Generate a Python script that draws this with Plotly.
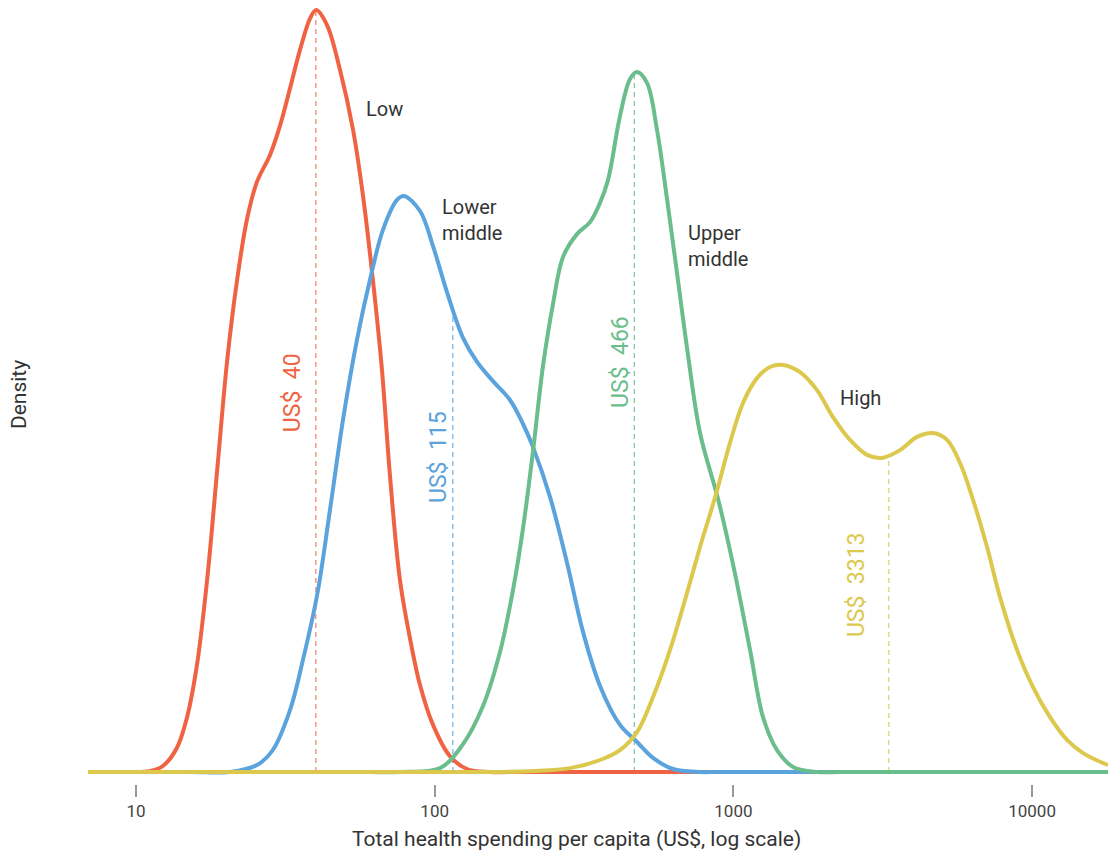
import math
import plotly.graph_objects as go

# Kernel density of per-capita health spending by income group (x in US$, log scale)
low_x = [6.9, 9.5, 11.1, 12.3, 13.7, 14.8, 16.0, 17.3, 18.7, 20.2, 21.8, 23.5, 25.4, 28.1,
         30.4, 32.8, 35.4, 38.3, 40.1, 43.6, 48.2, 53.3, 57.5, 62.1, 66.6, 70.8, 76.5,
         82.6, 89.3, 98.7, 112.4, 128.2, 153, 180, 17950]
low_y = [0, 0, 0.003, 0.02, 0.08, 0.18, 0.357, 0.64, 1.007, 1.373, 1.64, 1.84, 1.967, 2.057,
         2.157, 2.28, 2.407, 2.513, 2.54, 2.49, 2.34, 2.14, 1.923, 1.64, 1.34, 0.99, 0.64,
         0.447, 0.29, 0.157, 0.053, 0.01, 0, 0, 0]

lower_mid_x = [6.9, 15, 20.6, 25.4, 28.7, 32.8, 36.2, 40.4, 44.6, 49.3, 54.9, 60.7, 67.1, 74.8,
               78.9, 89.3, 98.7, 109.9, 124.4, 138.6, 156.7, 178.7, 197.6, 213.4, 243.2,
               277.4, 313.7, 357.6, 417.3, 475.7, 538.2, 627.9, 773, 900, 17950]
lower_mid_y = [0, 0, 0, 0.023, 0.073, 0.207, 0.373, 0.59, 0.873, 1.173, 1.44, 1.64, 1.807, 1.907,
               1.92, 1.87, 1.753, 1.6, 1.447, 1.367, 1.303, 1.24, 1.16, 1.083, 0.917,
               0.697, 0.467, 0.287, 0.157, 0.1, 0.047, 0.01, 0, 0, 0]

upper_mid_x = [6.9, 60, 76.5, 104.2, 124.4, 145.1, 165.4, 182.9, 197.6, 213.4, 230.4, 248.9,
               268.9, 299.5, 331.1, 357.6, 380.3, 417.3, 450.7, 475.7, 513.7, 555, 599.5,
               647.6, 699.6, 773.2, 890.2, 1001.7, 1136.9, 1256.5, 1399.6, 1583.3, 1905,
               2300, 17950]
upper_mid_y = [0, 0, 0, 0.013, 0.093, 0.22, 0.4, 0.607, 0.813, 1.07, 1.353, 1.56,
               1.717, 1.793, 1.833, 1.897, 1.973, 2.187, 2.31, 2.333, 2.297, 2.14, 1.91,
               1.663, 1.413, 1.13, 0.907, 0.683, 0.407, 0.183, 0.073, 0.017, 0,
               0, 0]

high_x = [6.9, 120, 165.4, 213.4, 283.8, 357.6, 417.3, 475.7, 538.2, 613.6, 699.4, 773.2, 876.6,
          974.1, 1076.8, 1199.5, 1326, 1465.5, 1671, 1905, 2155, 2457, 2802, 3145, 3613,
          4119, 4659, 5190, 5738, 6342, 7066, 7809, 8902, 10070, 11480, 13090, 14810, 17950]
high_y = [0, 0, 0, 0.003, 0.013, 0.04, 0.073, 0.133, 0.25, 0.407, 0.597, 0.75, 0.93,
          1.097, 1.23, 1.313, 1.35, 1.357, 1.333, 1.273, 1.183, 1.107, 1.057, 1.047, 1.073,
          1.117, 1.13, 1.107, 1.03, 0.907, 0.75, 0.583, 0.407, 0.283, 0.183, 0.107, 0.063, 0.023]

# Median spending per group and the density height where its marker line ends
medians = [40, 115, 466, 3313]
median_heights = [2.54, 1.543, 2.327, 1.053]

group_names = ["Low", "Lower<br>middle", "Upper<br>middle", "High"]
tick_vals = [10, 100, 1000, 10000]
tick_text = ["10", "100", "1000", "10000"]

line_colors = ["#EF6343", "#5BA3DC", "#6ABD8C", "#DDC84E"]
dash_colors = ["#F28A72", "#7DB6E3", "#86C9A1", "#E3D170"]

FONT = "Roboto, 'Noto Sans', sans-serif"

fig = go.Figure()

# median marker lines, underneath the curves
for m, h, c in zip(medians, median_heights, dash_colors):
    fig.add_trace(go.Scatter(
        x=[m, m], y=[0, h], mode="lines",
        line=dict(color=c, width=1.3, dash="5px,4px"),
        hoverinfo="skip", showlegend=False))

series = [(low_x, low_y), (lower_mid_x, lower_mid_y),
          (upper_mid_x, upper_mid_y), (high_x, high_y)]
for (xs, ys), c, name in zip(series, line_colors, group_names):
    fig.add_trace(go.Scatter(
        x=xs, y=ys, mode="lines", name=name.replace("<br>", " "),
        line=dict(color=c, width=4, shape="spline", smoothing=1.0),
        showlegend=False))

# group names
name_pos = [(67.7, 2.21, "center"), (104.2, 1.84, "left"),
            (693.8, 1.753, "left"), (2240, 1.247, "left")]
for (px, py, anchor), txt in zip(name_pos, group_names):
    fig.add_annotation(x=math.log10(px), y=py, text=txt, showarrow=False,
                       xanchor=anchor, yanchor="middle", align="left",
                       font=dict(family=FONT, size=20, color="#333333"))

# rotated median labels
label_pos = [(33.3, 1.263), (102.6, 1.05), (420.5, 1.367), (2573, 0.623)]
for (px, py), m, c in zip(label_pos, medians, line_colors):
    fig.add_annotation(x=math.log10(px), y=py, text=f"US$  {m}", showarrow=False,
                       textangle=-90, xanchor="center", yanchor="middle",
                       font=dict(family=FONT, size=23, color=c))

# x-axis title, set slightly left of the plot centre
fig.add_annotation(xref="paper", yref="paper", x=0.479, y=-0.071,
                   text="Total health spending per capita (US$, log scale)",
                   showarrow=False, xanchor="center", yanchor="middle",
                   font=dict(family=FONT, size=21, color="#333333"))

fig.update_layout(
    width=1112, height=855,
    margin=dict(l=88, r=4, t=5, b=71),
    plot_bgcolor="white", paper_bgcolor="white",
    font=dict(family=FONT, color="#333333"),
    xaxis=dict(
        type="log", range=[0.8393, 4.2541],
        tickvals=tick_vals, ticktext=tick_text,
        ticks="outside", ticklen=12, tickwidth=1.5, tickcolor="#999999",
        tickfont=dict(size=17, color="#444444"),
        showgrid=False, zeroline=False, showline=False,
    ),
    yaxis=dict(
        range=[-0.04, 2.5567],
        showticklabels=False, ticks="", showgrid=False, zeroline=False, showline=False,
        title=dict(text="Density", font=dict(size=21, color="#333333"), standoff=54),
    ),
)

fig.write_html("out.html")
